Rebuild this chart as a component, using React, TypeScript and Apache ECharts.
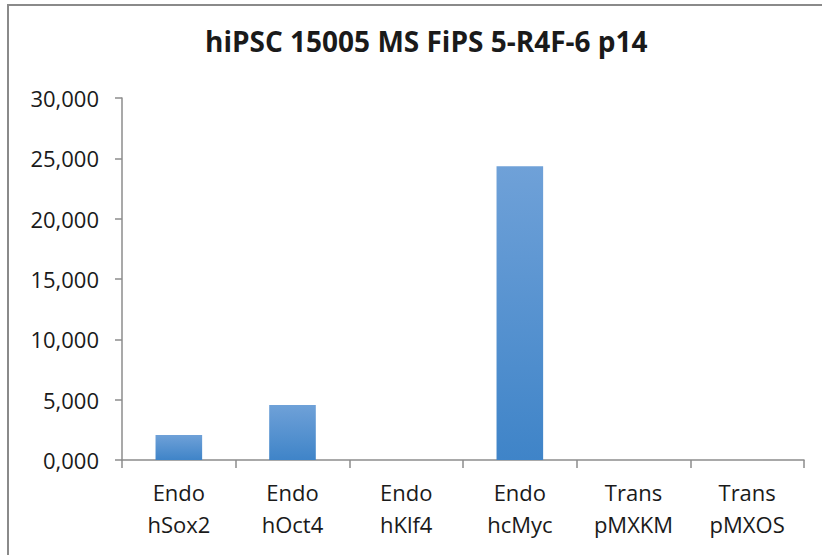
import React, { useEffect, useRef } from "react";
import * as echarts from "echarts";

const categories = ["Endo\nhSox2", "Endo\nhOct4", "Endo\nhKlf4", "Endo\nhcMyc", "Trans\npMXKM", "Trans\npMXOS"];
const values = [2080, 4560, 0, 24350, 0, 0];
const title = "hiPSC 15005 MS FiPS 5-R4F-6 p14";

const fmt = (v: number) => {
  const th = Math.floor(v / 1000);
  const rest = String(v % 1000).padStart(3, "0");
  return `${th},${rest}`;
};

export default function App() {
  const ref = useRef<HTMLDivElement>(null);
  useEffect(() => {
    const chart = echarts.init(ref.current!, null, { renderer: "svg" });
    const font = "'Open Sans', 'Liberation Sans', sans-serif";
    chart.setOption({
      animation: false,
      backgroundColor: "#ffffff",
      title: {
        text: title,
        left: 200,
        top: 22,
        textStyle: { fontFamily: font, fontSize: 28, fontWeight: "bold", color: "#1a1a1a" },
      },
      graphic: [
        {
          type: "rect",
          shape: { x: 8, y: 5, width: 830, height: 570 },
          style: { fill: "none", stroke: "#8a8a8a", lineWidth: 2 },
          silent: true,
        },
      ],
      grid: { left: 122, right: 18, top: 98, bottom: 95 },
      xAxis: {
        type: "category",
        data: categories,
        axisLine: { lineStyle: { color: "#8c8c8c", width: 1.5 } },
        axisTick: { show: true, length: 8, lineStyle: { color: "#8c8c8c", width: 1.5 } },
        axisLabel: {
          margin: 16,
          fontFamily: font,
          fontSize: 22,
          lineHeight: 32,
          color: "#1a1a1a",
          interval: 0,
        },
      },
      yAxis: {
        type: "value",
        min: 0,
        max: 30000,
        interval: 5000,
        splitLine: { show: false },
        axisLine: { show: true, lineStyle: { color: "#8c8c8c", width: 1.5 } },
        axisTick: { show: true, length: 7, lineStyle: { color: "#8c8c8c", width: 1.5 } },
        axisLabel: {
          margin: 23,
          fontFamily: font,
          fontSize: 22,
          color: "#1a1a1a",
          formatter: (v: number) => fmt(v),
        },
      },
      series: [
        {
          type: "bar",
          data: values,
          barCategoryGap: "59%",
          itemStyle: {
            color: new echarts.graphic.LinearGradient(0, 0, 0, 1, [
              { offset: 0, color: "#6fa1d8" },
              { offset: 1, color: "#3f84c8" },
            ]),
          },
        },
      ],
    });
    return () => chart.dispose();
  }, []);
  return (
    <div
      ref={ref}
      style={{ position: "absolute", left: 0, top: 0, width: 822, height: 555 }}
    />
  );
}
